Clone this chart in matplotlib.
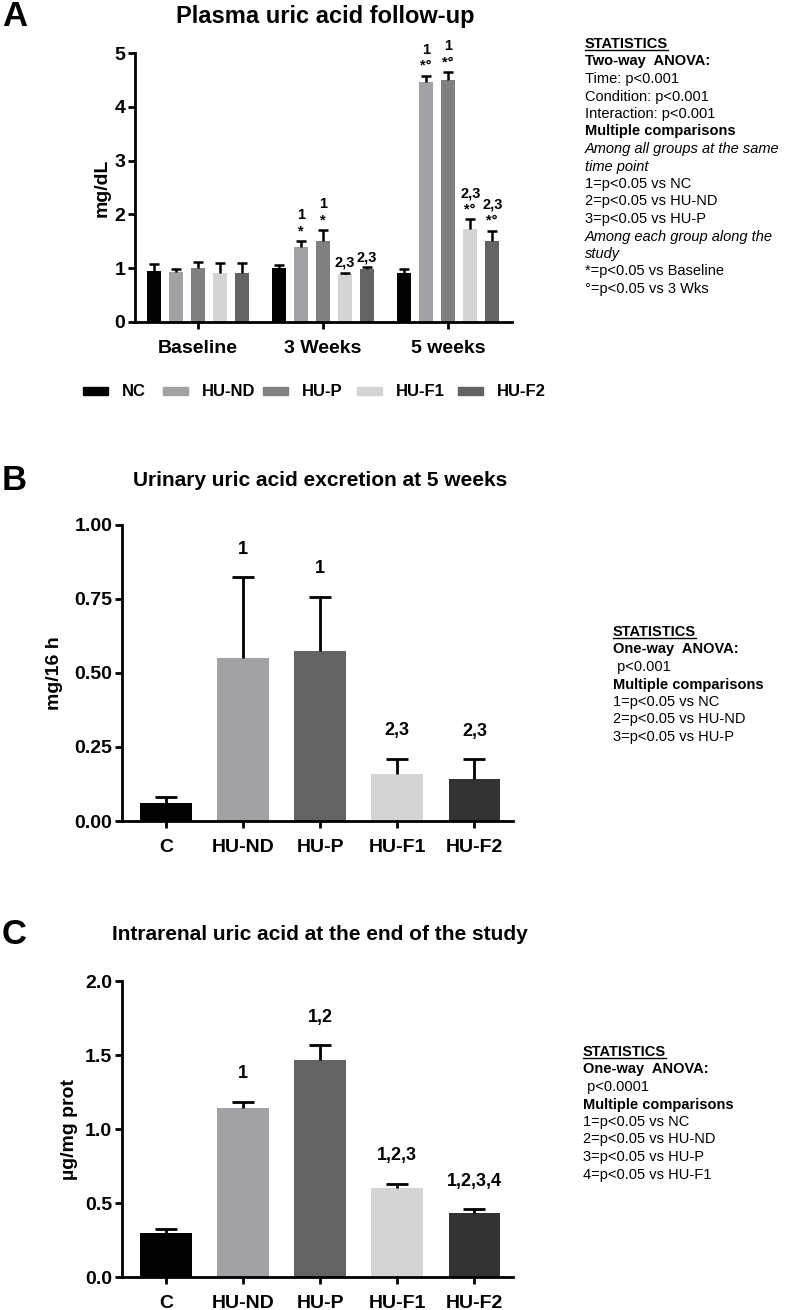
import numpy as np
import matplotlib
matplotlib.use('Agg')
from matplotlib import pyplot as plt
from matplotlib.patches import Rectangle

# fonts
FONT = ['Liberation Sans', 'DejaVu Sans']
plt.rcParams['font.family'] = FONT
plt.rcParams['font.weight'] = 'bold'

#################################################
# data
#################################################
groups = ['NC', 'HU-ND', 'HU-P', 'HU-F1', 'HU-F2']
groups_bc = ['C', 'HU-ND', 'HU-P', 'HU-F1', 'HU-F2']
timepoints = ['Baseline', '3 Weeks', '5 weeks']

# panel A: rows = groups, cols = timepoints
plasma_mean = [[0.95, 1.00, 0.92],
               [0.93, 1.40, 4.47],
               [1.00, 1.50, 4.50],
               [0.92, 0.89, 1.73],
               [0.91, 0.99, 1.50]]
plasma_err = [[0.12, 0.06, 0.06],
              [0.06, 0.11, 0.11],
              [0.11, 0.21, 0.15],
              [0.17, 0.03, 0.18],
              [0.18, 0.03, 0.20]]
plasma_marks = [['', '', ''],
                ['', '1\n*', '1\n*°'],
                ['', '1\n*', '1\n*°'],
                ['', '2,3', '2,3\n*°'],
                ['', '2,3', '2,3\n*°']]

# panel B
urine_mean = [0.062, 0.549, 0.576, 0.158, 0.141]
urine_err = [0.020, 0.274, 0.181, 0.052, 0.068]
urine_marks = ['', '1', '1', '2,3', '2,3']

# panel C
renal_mean = [0.298, 1.139, 1.463, 0.598, 0.435]
renal_err = [0.027, 0.045, 0.104, 0.031, 0.023]
renal_marks = ['', '1', '1,2', '1,2,3', '1,2,3,4']

colors_a = ['#000000', '#a2a2a6', '#808080', '#d4d4d4', '#636363']
colors_bc = ['#000000', '#a2a2a6', '#636363', '#d4d4d4', '#333333']

stats_a = [('STATISTICS', 'bold', 'normal', True),
           ('Two-way  ANOVA:', 'bold', 'normal', False),
           ('Time: p<0.001', 'normal', 'normal', False),
           ('Condition: p<0.001', 'normal', 'normal', False),
           ('Interaction: p<0.001', 'normal', 'normal', False),
           ('Multiple comparisons', 'bold', 'normal', False),
           ('Among all groups at the same', 'normal', 'italic', False),
           ('time point', 'normal', 'italic', False),
           ('1=p<0.05 vs NC', 'normal', 'normal', False),
           ('2=p<0.05 vs HU-ND', 'normal', 'normal', False),
           ('3=p<0.05 vs HU-P', 'normal', 'normal', False),
           ('Among each group along the', 'normal', 'italic', False),
           ('study', 'normal', 'italic', False),
           ('*=p<0.05 vs Baseline', 'normal', 'normal', False),
           ('°=p<0.05 vs 3 Wks', 'normal', 'normal', False)]
stats_b = [('STATISTICS', 'bold', 'normal', True),
           ('One-way  ANOVA:', 'bold', 'normal', False),
           (' p<0.001', 'normal', 'normal', False),
           ('Multiple comparisons', 'bold', 'normal', False),
           ('1=p<0.05 vs NC', 'normal', 'normal', False),
           ('2=p<0.05 vs HU-ND', 'normal', 'normal', False),
           ('3=p<0.05 vs HU-P', 'normal', 'normal', False)]
stats_c = [('STATISTICS', 'bold', 'normal', True),
           ('One-way  ANOVA:', 'bold', 'normal', False),
           (' p<0.0001', 'normal', 'normal', False),
           ('Multiple comparisons', 'bold', 'normal', False),
           ('1=p<0.05 vs NC', 'normal', 'normal', False),
           ('2=p<0.05 vs HU-ND', 'normal', 'normal', False),
           ('3=p<0.05 vs HU-P', 'normal', 'normal', False),
           ('4=p<0.05 vs HU-F1', 'normal', 'normal', False)]

W, H = 790, 1310
fig = plt.figure(figsize=(W / 100, H / 100), dpi=100)


def px_axes(x0, x1, ytop, ybot):
    """axes from pixel box"""
    return fig.add_axes([x0 / W, 1 - ybot / H, (x1 - x0) / W, (ybot - ytop) / H])


def style_axes(ax):
    for s in ['top', 'right']:
        ax.spines[s].set_visible(False)
    for s in ['left', 'bottom']:
        ax.spines[s].set_linewidth(2)
    ax.tick_params(width=2, length=5, labelsize=14, pad=2)
    for lab in ax.get_xticklabels() + ax.get_yticklabels():
        lab.set_fontweight('bold')


def upper_err(ax, x, y, e, lw, cap):
    # only the upper half of the error bar, GraphPad style
    _, caps, _ = ax.errorbar(x, y, yerr=[np.zeros(len(x)), e], fmt='none', ecolor='black',
                             elinewidth=lw, capsize=cap, capthick=lw, zorder=3)
    caps[0].set_visible(False)


def stats_block(x, y, lines, step=17.5):
    for i, (txt, fw, fs, under) in enumerate(lines):
        t = fig.text(x / W, 1 - (y + i * step) / H, txt, fontsize=10.5,
                     fontweight=fw, style=fs, va='center', ha='left')
        if under:
            fig.canvas.draw()
            bb = t.get_window_extent()
            fig.add_artist(plt.Line2D([bb.x0 / W, bb.x1 / W],
                                      [(bb.y0 + 1) / H, (bb.y0 + 1) / H],
                                      color='black', lw=1, transform=fig.transFigure))


#################################################
# panel A
#################################################
axA = px_axes(135, 512, 53, 322)
pitch = 0.176
bw = 0.11
xg = np.arange(len(timepoints))
for i, g in enumerate(groups):
    xs = xg + (i - 2) * pitch
    axA.bar(xs, plasma_mean[i], bw, color=colors_a[i], label=g, zorder=2)
    upper_err(axA, xs, plasma_mean[i], plasma_err[i], 1.8, 3.5)
    for j in range(len(timepoints)):
        if plasma_marks[i][j]:
            axA.annotate(plasma_marks[i][j], (xs[j], plasma_mean[i][j] + plasma_err[i][j]),
                         xytext=(0, 2), textcoords='offset points', ha='center',
                         va='bottom', fontsize=10.5, fontweight='bold', linespacing=1.2)
axA.set_xlim(-0.504, 2.51)
axA.set_ylim(0, 5)
axA.set_yticks(range(6))
axA.set_xticks(xg)
axA.set_xticklabels(timepoints)
axA.set_ylabel('mg/dL', fontsize=14, fontweight='bold', labelpad=3)
style_axes(axA)
axA.tick_params(axis='x', labelsize=14, pad=8)
fig.text(325 / W, 1 - 17 / H, 'Plasma uric acid follow-up', ha='center', va='center',
         fontsize=17, fontweight='bold')
fig.text(2 / W, 1 - 16 / H, 'A', ha='left', va='center', fontsize=25, fontweight='bold')

# legend row, drawn by hand
leg_x = [83, 163, 263, 357, 458]
leg_y = 391
for c, g, x0 in zip(colors_a, groups, leg_x):
    fig.add_artist(Rectangle((x0 / W, 1 - (leg_y + 4) / H), 25 / W, 8 / H, color=c,
                             transform=fig.transFigure))
    fig.text((x0 + 39) / W, 1 - leg_y / H, g, ha='left', va='center', fontsize=12,
             fontweight='bold')

stats_block(585, 44, stats_a)

#################################################
# panels B and C
#################################################
def bar_panel(ytop, ybot, means, errs, marks, ymax, yticks, ylab, title, ytitle, letter,
              lpad):
    ax = px_axes(122, 513, ytop, ybot)
    x = np.arange(len(groups_bc))
    ax.bar(x, means, 0.67, color=colors_bc, zorder=2)
    upper_err(ax, x, means, errs, 2.0, 8)
    for i in range(len(x)):
        if marks[i]:
            ax.annotate(marks[i], (x[i], means[i] + errs[i]), xytext=(0, 14),
                        textcoords='offset points', ha='center', va='bottom',
                        fontsize=13, fontweight='bold')
    ax.set_xlim(-0.57, 4.5)
    ax.set_ylim(0, ymax)
    ax.set_yticks(yticks)
    ax.set_xticks(x)
    ax.set_xticklabels(groups_bc)
    ax.set_ylabel(ylab, fontsize=14, fontweight='bold', labelpad=lpad)
    style_axes(ax)
    ax.tick_params(axis='x', labelsize=14, pad=8)
    fig.text(320 / W, 1 - ytitle / H, title, ha='center', va='center', fontsize=15,
             fontweight='bold')
    fig.text(2 / W, 1 - ytitle / H, letter, ha='left', va='center', fontsize=25,
             fontweight='bold')
    return ax


axB = bar_panel(525, 821, urine_mean, urine_err, urine_marks, 1.0,
                [0, 0.25, 0.5, 0.75, 1.0], 'mg/16 h',
                'Urinary uric acid excretion at 5 weeks', 481, 'B', 8)
axB.set_yticklabels(['0.00', '0.25', '0.50', '0.75', '1.00'])
stats_block(613, 632, stats_b)

axC = bar_panel(981, 1277, renal_mean, renal_err, renal_marks, 2.0,
                [0, 0.5, 1.0, 1.5, 2.0], 'µg/mg prot',
                'Intrarenal uric acid at the end of the study', 935, 'C', 5)
axC.set_yticklabels(['0.0', '0.5', '1.0', '1.5', '2.0'])
stats_block(583, 1052, stats_c)

fig.savefig('out.png', dpi=100)
